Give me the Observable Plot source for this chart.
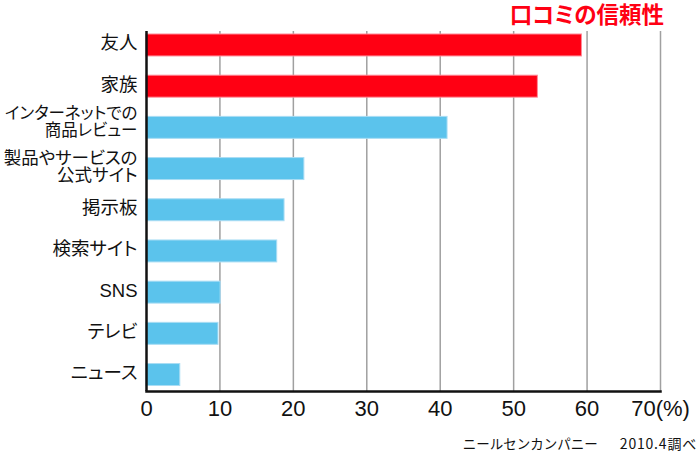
<!DOCTYPE html>
<html>
<head>
<meta charset="utf-8">
<script src="https://cdn.jsdelivr.net/npm/d3@7"></script>
<script src="https://cdn.jsdelivr.net/npm/@observablehq/plot@0.6"></script>
<style>
  html, body { margin: 0; padding: 0; background: #fff; }
  #wrap { position: relative; width: 700px; height: 453px; }
  #chart svg text { font-feature-settings: "palt"; }
  #title { position: absolute; right: 36px; top: 2px; font: bold 22.5px "Noto Sans CJK JP", sans-serif; color: #ff0013; line-height: 22px; font-feature-settings: "palt"; white-space: nowrap; }
  #caption { position: absolute; right: 3px; top: 434px; font: 13.5px "Noto Sans CJK JP", sans-serif; color: #111; line-height: 18px; white-space: nowrap; }
  #caption .d { margin-left: 22px; letter-spacing: 0.8px; font-size: 14px; }
</style>
</head>
<body>
<div id="wrap">
  <div id="chart"></div>
  <div id="title">口コミの信頼性</div>
  <div id="caption"><span>ニールセンカンパニー</span><span class="d">2010.4調べ</span></div>
</div>
<script>
const categories = ["友人", "家族", "インターネットでの\n商品レビュー", "製品やサービスの\n公式サイト", "掲示板", "検索サイト", "SNS", "テレビ", "ニュース"];
const values = [59.3, 53.3, 41.0, 21.5, 18.8, 17.8, 10.1, 9.8, 4.6];
const highlighted = ["友人", "家族"];
const xTicks = [0, 10, 20, 30, 40, 50, 60, 70];

const data = categories.map((name, i) => ({name, value: values[i]}));
const RED = "#ff0013", BLUE = "#5bc3ec";
const isHi = d => highlighted.includes(d.name);
const isReview = d => d.name.startsWith("インターネット");
const labelSize = d => isReview(d) ? 16.5 : d.name.startsWith("製品") ? 17.5 : 18.5;

const chart = Plot.plot({
  width: 700,
  height: 453,
  marginLeft: 146,
  marginRight: 40,
  marginTop: 31,
  marginBottom: 62,
  style: {fontFamily: '"Liberation Sans", "Noto Sans CJK JP", sans-serif', color: "#111", background: "#fff"},
  x: {domain: [0, 70], label: null},
  y: {domain: categories, range: [34, 385.5], paddingInner: 0.467, paddingOuter: 0, round: false, label: null, axis: null},
  color: {type: "identity"},
  marks: [
    Plot.gridX({ticks: xTicks.filter(t => t > 0), stroke: "#a0a0a0", strokeOpacity: 1, strokeWidth: 1.5}),
    Plot.barX(data, {
      x: "value", y: "name",
      fill: d => isHi(d) ? RED : BLUE,
      stroke: d => isHi(d) ? "#ff8a98" : "#a9ddf4",
      strokeWidth: 1
    }),
    Plot.ruleX([0], {stroke: "#111", strokeWidth: 2.5}),
    Plot.frame({anchor: "bottom", stroke: "#111", strokeWidth: 2.5}),
    Plot.axisX({ticks: xTicks, tickSize: 0, tickPadding: 9, fontSize: 22, label: null,
      tickFormat: d => d === 70 ? "70(%)" : String(d)}),
    Plot.text(data.filter(d => !isReview(d)), {
      x: () => 0, y: "name", text: "name",
      textAnchor: "end", dx: -9, dy: -2,
      fontSize: labelSize, lineHeight: 1.0, fill: "#111"
    }),
    Plot.text(data.filter(isReview), {
      x: () => 0, y: "name", text: "name",
      textAnchor: "end", dx: -9, dy: -6,
      fontSize: labelSize, lineHeight: 1.05, fill: "#111"
    })
  ]
});
document.getElementById("chart").appendChild(chart);
</script>
</body>
</html>
